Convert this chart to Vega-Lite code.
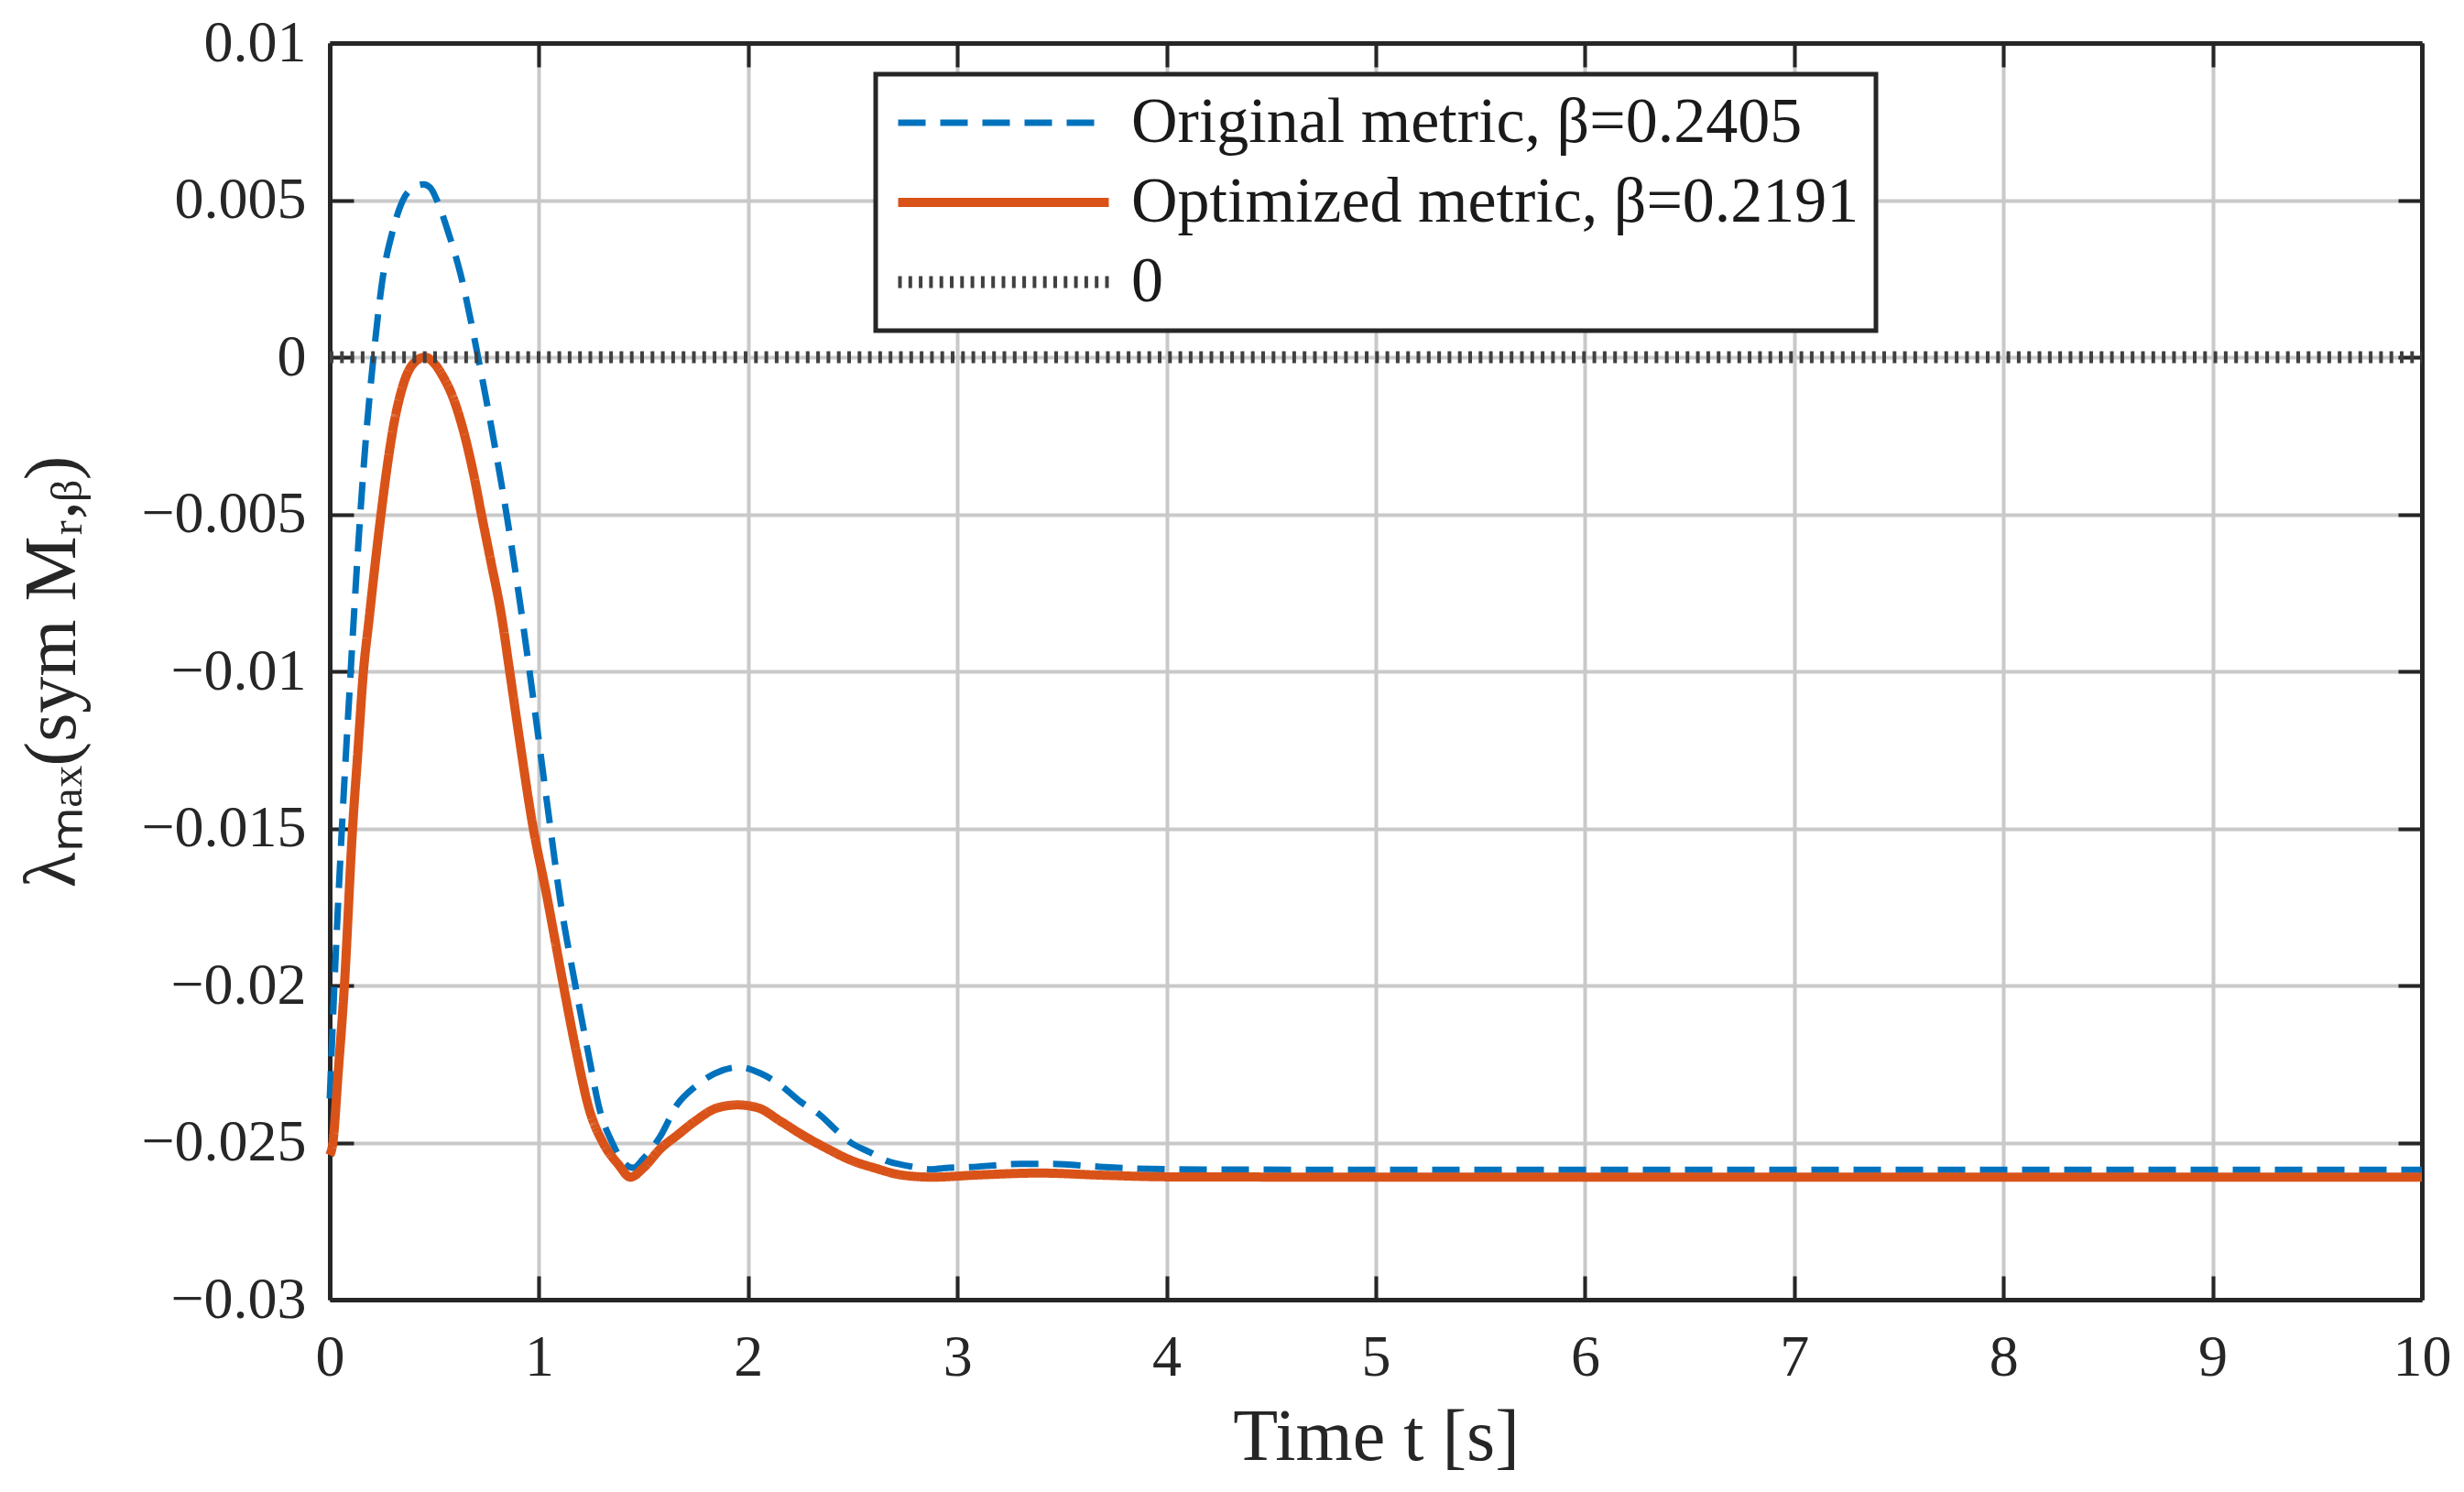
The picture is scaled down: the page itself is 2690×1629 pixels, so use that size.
{
  "$schema": "https://vega.github.io/schema/vega-lite/v6.json",
  "width": 2284,
  "height": 1372,
  "autosize": {"type": "none"},
  "padding": {"left": 360, "top": 47, "right": 46, "bottom": 210},
  "background": "white",
  "config": {
    "view": {"stroke": null},
    "font": "Liberation Serif",
    "axis": {
      "domainColor": "#262626",
      "domainWidth": 5,
      "tickColor": "#262626",
      "tickWidth": 4,
      "tickSize": -26,
      "gridColor": "#c9c9c9",
      "gridWidth": 4,
      "labelFont": "Liberation Serif",
      "labelFontSize": 64,
      "labelColor": "#262626",
      "labelLimit": 500,
      "labelFlush": false,
      "labelOverlap": false,
      "labelBound": false,
      "titleFont": "Liberation Serif",
      "titleFontSize": 80,
      "titleFontWeight": "normal",
      "titleColor": "#262626"
    },
    "legend": {
      "orient": "none",
      "legendX": 596,
      "legendY": 34,
      "symbolType": "stroke",
      "symbolSize": 52900,
      "clipHeight": 70,
      "labelFont": "Liberation Serif",
      "labelFontSize": 70,
      "labelColor": "#1a1a1a",
      "labelOffset": 18,
      "labelLimit": 2000,
      "rowPadding": 17,
      "padding": 18,
      "fillColor": "white",
      "strokeColor": "#262626",
      "strokeWidth": 5
    }
  },
  "datasets": {
    "curves": [
      {"series": "Original metric, β=0.2405", "t": 0, "v": -0.0236},
      {"series": "Original metric, β=0.2405", "t": 0.022, "v": -0.02},
      {"series": "Original metric, β=0.2405", "t": 0.058, "v": -0.015},
      {"series": "Original metric, β=0.2405", "t": 0.1, "v": -0.01},
      {"series": "Original metric, β=0.2405", "t": 0.146, "v": -0.005},
      {"series": "Original metric, β=0.2405", "t": 0.175, "v": -0.0024},
      {"series": "Original metric, β=0.2405", "t": 0.209, "v": 0},
      {"series": "Original metric, β=0.2405", "t": 0.255, "v": 0.0026},
      {"series": "Original metric, β=0.2405", "t": 0.3, "v": 0.004},
      {"series": "Original metric, β=0.2405", "t": 0.35, "v": 0.005},
      {"series": "Original metric, β=0.2405", "t": 0.4, "v": 0.0054},
      {"series": "Original metric, β=0.2405", "t": 0.447, "v": 0.0055},
      {"series": "Original metric, β=0.2405", "t": 0.48, "v": 0.0054},
      {"series": "Original metric, β=0.2405", "t": 0.512, "v": 0.005},
      {"series": "Original metric, β=0.2405", "t": 0.57, "v": 0.0039},
      {"series": "Original metric, β=0.2405", "t": 0.627, "v": 0.0026},
      {"series": "Original metric, β=0.2405", "t": 0.67, "v": 0.0013},
      {"series": "Original metric, β=0.2405", "t": 0.709, "v": 0},
      {"series": "Original metric, β=0.2405", "t": 0.78, "v": -0.0025},
      {"series": "Original metric, β=0.2405", "t": 0.845, "v": -0.005},
      {"series": "Original metric, β=0.2405", "t": 0.909, "v": -0.0078},
      {"series": "Original metric, β=0.2405", "t": 0.955, "v": -0.01},
      {"series": "Original metric, β=0.2405", "t": 1.055, "v": -0.015},
      {"series": "Original metric, β=0.2405", "t": 1.1, "v": -0.0172},
      {"series": "Original metric, β=0.2405", "t": 1.174, "v": -0.02},
      {"series": "Original metric, β=0.2405", "t": 1.233, "v": -0.02206},
      {"series": "Original metric, β=0.2405", "t": 1.292, "v": -0.024},
      {"series": "Original metric, β=0.2405", "t": 1.35, "v": -0.025},
      {"series": "Original metric, β=0.2405", "t": 1.4, "v": -0.0256},
      {"series": "Original metric, β=0.2405", "t": 1.45, "v": -0.0258},
      {"series": "Original metric, β=0.2405", "t": 1.5, "v": -0.0255},
      {"series": "Original metric, β=0.2405", "t": 1.58, "v": -0.0248},
      {"series": "Original metric, β=0.2405", "t": 1.66, "v": -0.0238},
      {"series": "Original metric, β=0.2405", "t": 1.75, "v": -0.0232},
      {"series": "Original metric, β=0.2405", "t": 1.84, "v": -0.0228},
      {"series": "Original metric, β=0.2405", "t": 1.96, "v": -0.0226},
      {"series": "Original metric, β=0.2405", "t": 2.06, "v": -0.0228},
      {"series": "Original metric, β=0.2405", "t": 2.16, "v": -0.0232},
      {"series": "Original metric, β=0.2405", "t": 2.25, "v": -0.0237},
      {"series": "Original metric, β=0.2405", "t": 2.34, "v": -0.0241},
      {"series": "Original metric, β=0.2405", "t": 2.42, "v": -0.0246},
      {"series": "Original metric, β=0.2405", "t": 2.49, "v": -0.025},
      {"series": "Original metric, β=0.2405", "t": 2.58, "v": -0.0253},
      {"series": "Original metric, β=0.2405", "t": 2.67, "v": -0.0256},
      {"series": "Original metric, β=0.2405", "t": 2.77, "v": -0.02575},
      {"series": "Original metric, β=0.2405", "t": 2.87, "v": -0.02585},
      {"series": "Original metric, β=0.2405", "t": 2.96, "v": -0.0258},
      {"series": "Original metric, β=0.2405", "t": 3.06, "v": -0.02578},
      {"series": "Original metric, β=0.2405", "t": 3.3, "v": -0.02568},
      {"series": "Original metric, β=0.2405", "t": 3.45, "v": -0.02568},
      {"series": "Original metric, β=0.2405", "t": 3.68, "v": -0.02577},
      {"series": "Original metric, β=0.2405", "t": 3.86, "v": -0.02583},
      {"series": "Original metric, β=0.2405", "t": 4.2, "v": -0.02586},
      {"series": "Original metric, β=0.2405", "t": 6, "v": -0.02587},
      {"series": "Original metric, β=0.2405", "t": 10, "v": -0.02587},
      {"series": "Optimized metric, β=0.2191", "t": 0, "v": -0.0254},
      {"series": "Optimized metric, β=0.2191", "t": 0.015, "v": -0.025},
      {"series": "Optimized metric, β=0.2191", "t": 0.04, "v": -0.0228},
      {"series": "Optimized metric, β=0.2191", "t": 0.07, "v": -0.02},
      {"series": "Optimized metric, β=0.2191", "t": 0.109, "v": -0.015},
      {"series": "Optimized metric, β=0.2191", "t": 0.135, "v": -0.0125},
      {"series": "Optimized metric, β=0.2191", "t": 0.161, "v": -0.01},
      {"series": "Optimized metric, β=0.2191", "t": 0.187, "v": -0.0084},
      {"series": "Optimized metric, β=0.2191", "t": 0.215, "v": -0.0067},
      {"series": "Optimized metric, β=0.2191", "t": 0.245, "v": -0.005},
      {"series": "Optimized metric, β=0.2191", "t": 0.27, "v": -0.0037},
      {"series": "Optimized metric, β=0.2191", "t": 0.292, "v": -0.0027},
      {"series": "Optimized metric, β=0.2191", "t": 0.31, "v": -0.002},
      {"series": "Optimized metric, β=0.2191", "t": 0.328, "v": -0.00145},
      {"series": "Optimized metric, β=0.2191", "t": 0.36, "v": -0.0007},
      {"series": "Optimized metric, β=0.2191", "t": 0.4, "v": -0.0002},
      {"series": "Optimized metric, β=0.2191", "t": 0.455, "v": 0},
      {"series": "Optimized metric, β=0.2191", "t": 0.5, "v": -0.0002},
      {"series": "Optimized metric, β=0.2191", "t": 0.54, "v": -0.0006},
      {"series": "Optimized metric, β=0.2191", "t": 0.59, "v": -0.0013},
      {"series": "Optimized metric, β=0.2191", "t": 0.649, "v": -0.0026},
      {"series": "Optimized metric, β=0.2191", "t": 0.69, "v": -0.0038},
      {"series": "Optimized metric, β=0.2191", "t": 0.722, "v": -0.0049},
      {"series": "Optimized metric, β=0.2191", "t": 0.77, "v": -0.0065},
      {"series": "Optimized metric, β=0.2191", "t": 0.82, "v": -0.0082},
      {"series": "Optimized metric, β=0.2191", "t": 0.86, "v": -0.01},
      {"series": "Optimized metric, β=0.2191", "t": 0.91, "v": -0.0123},
      {"series": "Optimized metric, β=0.2191", "t": 0.965, "v": -0.0147},
      {"series": "Optimized metric, β=0.2191", "t": 1.039, "v": -0.0172},
      {"series": "Optimized metric, β=0.2191", "t": 1.117, "v": -0.02},
      {"series": "Optimized metric, β=0.2191", "t": 1.175, "v": -0.022},
      {"series": "Optimized metric, β=0.2191", "t": 1.243, "v": -0.024},
      {"series": "Optimized metric, β=0.2191", "t": 1.306, "v": -0.025},
      {"series": "Optimized metric, β=0.2191", "t": 1.38, "v": -0.0257},
      {"series": "Optimized metric, β=0.2191", "t": 1.437, "v": -0.0261},
      {"series": "Optimized metric, β=0.2191", "t": 1.5, "v": -0.0258},
      {"series": "Optimized metric, β=0.2191", "t": 1.58, "v": -0.0252},
      {"series": "Optimized metric, β=0.2191", "t": 1.664, "v": -0.02475},
      {"series": "Optimized metric, β=0.2191", "t": 1.75, "v": -0.0243},
      {"series": "Optimized metric, β=0.2191", "t": 1.85, "v": -0.0239},
      {"series": "Optimized metric, β=0.2191", "t": 1.95, "v": -0.0238},
      {"series": "Optimized metric, β=0.2191", "t": 2.05, "v": -0.0239},
      {"series": "Optimized metric, β=0.2191", "t": 2.15, "v": -0.0243},
      {"series": "Optimized metric, β=0.2191", "t": 2.27, "v": -0.0248},
      {"series": "Optimized metric, β=0.2191", "t": 2.38, "v": -0.0252},
      {"series": "Optimized metric, β=0.2191", "t": 2.49, "v": -0.02556},
      {"series": "Optimized metric, β=0.2191", "t": 2.6, "v": -0.0258},
      {"series": "Optimized metric, β=0.2191", "t": 2.74, "v": -0.02604},
      {"series": "Optimized metric, β=0.2191", "t": 2.88, "v": -0.0261},
      {"series": "Optimized metric, β=0.2191", "t": 3.1, "v": -0.02603},
      {"series": "Optimized metric, β=0.2191", "t": 3.39, "v": -0.02597},
      {"series": "Optimized metric, β=0.2191", "t": 3.7, "v": -0.02604},
      {"series": "Optimized metric, β=0.2191", "t": 4, "v": -0.02609},
      {"series": "Optimized metric, β=0.2191", "t": 5, "v": -0.0261},
      {"series": "Optimized metric, β=0.2191", "t": 10, "v": -0.0261},
      {"series": "0", "t": 0, "v": 0},
      {"series": "0", "t": 10, "v": 0}
    ]
  },
  "data": {"name": "curves"},
  "encoding": {
    "color": {
      "field": "series",
      "type": "nominal",
      "scale": {
        "domain": ["Original metric, β=0.2405", "Optimized metric, β=0.2191", "0"],
        "range": ["#0072BD", "#D95319", "#404040"]
      },
      "legend": {"title": null}
    },
    "strokeDash": {
      "field": "series",
      "type": "nominal",
      "scale": {
        "domain": ["Original metric, β=0.2405", "Optimized metric, β=0.2191", "0"],
        "range": [[30, 16], [1, 0], [4, 7.3]]
      },
      "legend": {"title": null}
    },
    "strokeWidth": {
      "field": "series",
      "type": "nominal",
      "scale": {
        "domain": ["Original metric, β=0.2405", "Optimized metric, β=0.2191", "0"],
        "range": [7, 13, 7]
      },
      "legend": {"title": null}
    }
  },
  "layer": [
    {
      "transform": [{"filter": "datum.series === 'Original metric, β=0.2405'"}],
      "mark": {"type": "line", "interpolate": "monotone", "strokeCap": "butt", "strokeJoin": "round"},
      "encoding": {
        "x": {
          "field": "t",
          "type": "quantitative",
          "scale": {"domain": [0, 10], "nice": false, "zero": false},
          "axis": {
            "orient": "bottom",
            "values": [0, 1, 2, 3, 4, 5, 6, 7, 8, 9, 10],
            "grid": true,
            "labelPadding": 57,
            "title": "Time t [s]",
            "titlePadding": 16
          }
        },
        "y": {
          "field": "v",
          "type": "quantitative",
          "scale": {"domain": [-0.03, 0.01], "nice": false, "zero": false},
          "axis": {
            "orient": "left",
            "values": [-0.03, -0.025, -0.02, -0.015, -0.01, -0.005, 0, 0.005, 0.01],
            "format": ".3~f",
            "grid": true,
            "labelPadding": 52,
            "title": "λₘₐₓ(sym Mᵣ,ᵦ)",
            "titlePadding": 62
          }
        }
      }
    },
    {
      "transform": [{"filter": "datum.series === 'Optimized metric, β=0.2191'"}],
      "mark": {"type": "line", "interpolate": "monotone", "strokeCap": "butt", "strokeJoin": "round"},
      "encoding": {
        "x": {"field": "t", "type": "quantitative", "axis": null},
        "y": {"field": "v", "type": "quantitative", "axis": null}
      }
    },
    {
      "transform": [{"filter": "datum.series === '0'"}],
      "mark": {"type": "line", "strokeCap": "butt"},
      "encoding": {
        "x": {
          "field": "t",
          "type": "quantitative",
          "axis": {
            "orient": "top",
            "values": [0, 1, 2, 3, 4, 5, 6, 7, 8, 9, 10],
            "labels": false,
            "grid": false,
            "title": null
          }
        },
        "y": {
          "field": "v",
          "type": "quantitative",
          "axis": {
            "orient": "right",
            "values": [-0.03, -0.025, -0.02, -0.015, -0.01, -0.005, 0, 0.005, 0.01],
            "labels": false,
            "grid": false,
            "title": null
          }
        }
      }
    }
  ],
  "resolve": {"axis": {"x": "independent", "y": "independent"}}
}
